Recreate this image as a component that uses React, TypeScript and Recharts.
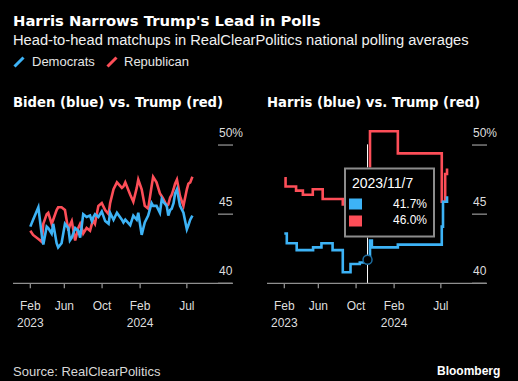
import { LineChart, Line, XAxis, YAxis, Tooltip, ReferenceLine } from 'recharts'

const BLUE = '#3db3f6'
const RED = '#fd4e58'
const SANS = '"Liberation Sans", Arial, sans-serif'
const WIDE = '"DejaVu Sans", Verdana, sans-serif'

// Biden vs. Trump, RCP average
const bidenDates = [
  '2023-02-11', '2023-02-20', '2023-03-09', '2023-03-20', '2023-03-25', '2023-04-05', '2023-04-10',
  '2023-04-21', '2023-04-26', '2023-05-07', '2023-05-12', '2023-05-23', '2023-06-03', '2023-06-14',
  '2023-06-19', '2023-06-25', '2023-07-06', '2023-07-16', '2023-07-22', '2023-07-27', '2023-08-01',
  '2023-08-12', '2023-08-23', '2023-08-29', '2023-09-03', '2023-09-08', '2023-09-19', '2023-09-30',
  '2023-10-11', '2023-10-22', '2023-10-27', '2023-11-07', '2023-11-18', '2023-12-04', '2023-12-09',
  '2023-12-15', '2023-12-31', '2024-01-10', '2024-01-21', '2024-01-26', '2024-02-06', '2024-02-16',
  '2024-02-27', '2024-03-09', '2024-03-14', '2024-03-25', '2024-04-05', '2024-04-11', '2024-04-16',
  '2024-04-27', '2024-05-02', '2024-05-08', '2024-05-13', '2024-05-19', '2024-05-24', '2024-05-30',
  '2024-06-09', '2024-06-20', '2024-07-01', '2024-07-06', '2024-07-12', '2024-07-19',
]
const bidenDem = [
  44.1, 44.6, 45.5, 43.5, 42.8, 44.1, 44.0,
  43.6, 44.3, 42.9, 42.6, 42.9, 44.3, 44.0,
  43.1, 43.3, 44.0, 43.8, 43.3, 44.1, 45.0,
  44.8, 44.9, 44.5, 44.8, 45.0, 44.8, 45.2,
  44.5, 44.3, 45.1, 44.6, 45.1, 44.6, 44.4,
  44.6, 44.2, 44.9, 44.6, 45.1, 43.5, 44.4,
  44.9, 45.8, 45.6, 45.6, 45.1, 46.1, 45.9,
  45.6, 44.9, 45.3, 45.4, 45.8, 46.5, 46.8,
  45.6, 45.1, 43.9, 44.2, 44.6, 44.9,
]
const bidenRep = [
  43.8, 43.5, 43.2, 43.0, 44.3, 45.0, 45.1,
  44.3, 44.6, 45.3, 45.5, 45.5, 45.3, 43.8,
  44.2, 44.5, 43.1, 44.0, 44.3, 44.0, 43.6,
  44.0, 43.8, 44.3, 44.5, 44.3, 45.6, 45.8,
  45.3, 45.0, 45.8, 46.8, 47.3, 46.9, 47.0,
  47.3, 46.4, 45.9, 46.9, 47.5, 46.8, 45.6,
  45.4, 47.0, 47.7, 47.3, 46.5, 46.3, 46.1,
  45.6, 45.7, 46.2, 46.4, 46.8, 47.2, 47.5,
  46.3, 45.6, 46.8, 47.2, 47.3, 47.7,
]

// Harris vs. Trump, RCP average (step changes)
const harrisDates = [
  '2023-02-11', '2023-02-15', '2023-02-19', '2023-03-21', '2023-03-23', '2023-04-12', '2023-05-14',
  '2023-05-15', '2023-06-11', '2023-06-15', '2023-07-17', '2023-08-19', '2023-09-13', '2023-10-13',
  '2023-11-07', '2023-11-15', '2023-11-21', '2024-02-13', '2024-07-04', '2024-07-08', '2024-07-15',
  '2024-07-21',
]
const harrisDem = [
  43.6, 43.6, 42.9, 42.9, 42.4, 42.4, 42.4,
  42.6, 42.9, 42.9, 42.4, 40.8, 41.4, 41.5,
  41.7, 43.1, 42.6, 42.8, 44.1, 45.9, 45.9,
  46.3,
]
const harrisRep = [
  47.6, 47.0, 47.0, 46.7, 46.7, 46.4, 46.8,
  46.8, 46.8, 46.1, 46.1, 45.7, 45.7, 45.7,
  46.0, 51.0, 51.0, 49.4, 45.9, 45.9, 47.9,
  48.3,
]
const tooltipDate = '2023-11-07'

const tickDates = ['2023-02-11', '2023-06-01', '2023-10-01', '2024-02-01', '2024-07-01']
const tickMonths = ['Feb', 'Jun', 'Oct', 'Feb', 'Jul']
const tickYears = ['2023', '', '', '2024', '']
const yTicks = [40, 45, 50]
const xDomain = ['2022-12-17', '2024-11-24']

const ts = (s: string) => Date.parse(s)

const bidenData = bidenDates.map((d, i) => ({ t: ts(d), dem: bidenDem[i], rep: bidenRep[i] }))
const harrisData = harrisDates.map((d, i) => ({ t: ts(d), dem: harrisDem[i], rep: harrisRep[i] }))
const tipIndex = harrisDates.indexOf(tooltipDate)

function DateTick(props: any) {
  const { x, y, index } = props
  return (
    <g>
      <text x={x} y={y + 21.5} textAnchor="middle" fill="#dedede" fontSize={12} fontFamily={SANS}>
        {tickMonths[index]}
      </text>
      {tickYears[index] && (
        <text x={x} y={y + 39} textAnchor="middle" fill="#dedede" fontSize={12} fontFamily={SANS}>
          {tickYears[index]}
        </text>
      )}
    </g>
  )
}

function PctTick(props: any) {
  const { x, y, payload } = props
  return (
    <g>
      <line x1={x - 14} x2={x + 1} y1={y} y2={y} stroke="#8f8f8f" strokeWidth={1.3} />
      <text x={x - 13} y={y - 8.5} fill="#dedede" fontSize={12} fontFamily={SANS}>
        {payload.value === 50 ? '50%' : payload.value}
      </text>
    </g>
  )
}

function HarrisTip(props: any) {
  const { payload, label } = props
  if (!payload || !payload.length) return null
  const d = new Date(label)
  const text = `${d.getUTCFullYear()}/${d.getUTCMonth() + 1}/${d.getUTCDate()}`
  const rows = [...payload]
    .sort((a: any, b: any) => (a.dataKey === 'dem' ? -1 : 1) - (b.dataKey === 'dem' ? -1 : 1))
    .map((p: any) => ({ color: p.dataKey === 'dem' ? BLUE : RED, value: p.value }))
  return (
    <div
      style={{
        position: 'relative', width: 91, height: 70, boxSizing: 'border-box',
        border: '2px solid #8c8c8c', background: '#000', fontFamily: SANS, color: '#fff',
      }}
    >
      <div style={{ position: 'absolute', left: 6, top: 6, fontSize: 14, lineHeight: '14px' }}>{text}</div>
      {rows.map((r: any, i: number) => (
        <div key={i}>
          <div style={{ position: 'absolute', left: 3, top: 29 + i * 16.7, width: 13, height: 11, background: r.color }} />
          <div style={{ position: 'absolute', right: 6, top: 27.5 + i * 16.3, fontSize: 12, lineHeight: '12px' }}>
            {r.value.toFixed(1)}%
          </div>
        </div>
      ))}
    </div>
  )
}

function Panel({ data, step, tip }: { data: any[]; step?: boolean; tip?: boolean }) {
  const type = step ? 'stepAfter' : 'linear'
  return (
    <LineChart width={254} height={240} data={data} margin={{ top: 24.3, right: 21, bottom: 16.7, left: 13 }}>
      <XAxis
        dataKey="t"
        type="number"
        domain={xDomain.map(ts)}
        ticks={tickDates.map(ts)}
        tick={<DateTick />}
        height={40}
        stroke="#8f8f8f"
        strokeWidth={1.3}
        tickSize={5}
        tickMargin={0}
        interval={0}
      />
      <YAxis
        orientation="right"
        type="number"
        domain={[40, 51.5]}
        ticks={yTicks}
        width={1}
        axisLine={false}
        tickLine={false}
        tickSize={0}
        tickMargin={0}
        tick={<PctTick />}
        interval={0}
      />
      {tip && (
        <ReferenceLine
          segment={[{ x: ts(tooltipDate), y: 40 }, { x: ts(tooltipDate), y: 50.05 }]}
          stroke="#ffffff"
          strokeWidth={1}
        />
      )}
      <Line
        type={type}
        dataKey="rep"
        stroke={RED}
        strokeWidth={2.6}
        dot={false}
        activeDot={false}
        isAnimationActive={false}
      />
      <Line
        type={type}
        dataKey="dem"
        stroke={BLUE}
        strokeWidth={2.6}
        dot={false}
        activeDot={tip ? { r: 4.5, fill: '#000', stroke: '#1d6c9e', strokeWidth: 1.5 } : false}
        isAnimationActive={false}
      />
      {tip && (
        <Tooltip
          active
          defaultIndex={tipIndex}
          cursor={false}
          isAnimationActive={false}
          position={{ x: 90, y: 67.5 }}
          wrapperStyle={{ outline: 'none' }}
          content={<HarrisTip />}
        />
      )}
    </LineChart>
  )
}

function Slash({ color }: { color: string }) {
  return (
    <svg width={12} height={12} style={{ display: 'block' }}>
      <line x1={1.5} y1={10.5} x2={10.5} y2={1.5} stroke={color} strokeWidth={3} />
    </svg>
  )
}

export default function App() {
  const abs = (left: number, top: number): React.CSSProperties => ({ position: 'absolute', left, top, whiteSpace: 'nowrap' })
  return (
    <div style={{ position: 'absolute', left: 0, top: 0, width: 518, height: 381, background: '#000', overflow: 'hidden', color: '#fff' }}>
      <div style={{ ...abs(13, 14.2), fontFamily: WIDE, fontWeight: 'bold', fontSize: 14.8, lineHeight: '14.8px' }}>
        Harris Narrows Trump's Lead in Polls
      </div>
      <div style={{ ...abs(13, 32.6), fontFamily: SANS, fontSize: 14.7, lineHeight: '14.7px', color: '#f0f0f0' }}>
        Head-to-head matchups in RealClearPolitics national polling averages
      </div>
      <div style={{ ...abs(13, 55.5) }}><Slash color={BLUE} /></div>
      <div style={{ ...abs(32, 55.3), fontFamily: SANS, fontSize: 13, lineHeight: '13px', color: '#e6e6e6' }}>Democrats</div>
      <div style={{ ...abs(106, 55.5) }}><Slash color={RED} /></div>
      <div style={{ ...abs(124, 55.3), fontFamily: SANS, fontSize: 13, lineHeight: '13px', color: '#e6e6e6' }}>Republican</div>

      <div style={{ ...abs(13, 95.8), fontFamily: WIDE, fontWeight: 'bold', fontSize: 13.2, lineHeight: '13.2px' }}>
        Biden (blue) vs. Trump (red)
      </div>
      <div style={{ ...abs(267, 95.8), fontFamily: WIDE, fontWeight: 'bold', fontSize: 13.2, lineHeight: '13.2px' }}>
        Harris (blue) vs. Trump (red)
      </div>

      <div style={{ position: 'absolute', left: 0, top: 100 }}>
        <Panel data={bidenData} />
      </div>
      <div style={{ position: 'absolute', left: 254, top: 100 }}>
        <Panel data={harrisData} step tip />
      </div>

      <div style={{ ...abs(13, 364.5), fontFamily: SANS, fontSize: 13, lineHeight: '13px', color: '#d8d8d8' }}>
        Source: RealClearPolitics
      </div>
      <div style={{ ...abs(437, 364.8), fontFamily: SANS, fontWeight: 'bold', fontSize: 12, lineHeight: '12px' }}>
        Bloomberg
      </div>
    </div>
  )
}
